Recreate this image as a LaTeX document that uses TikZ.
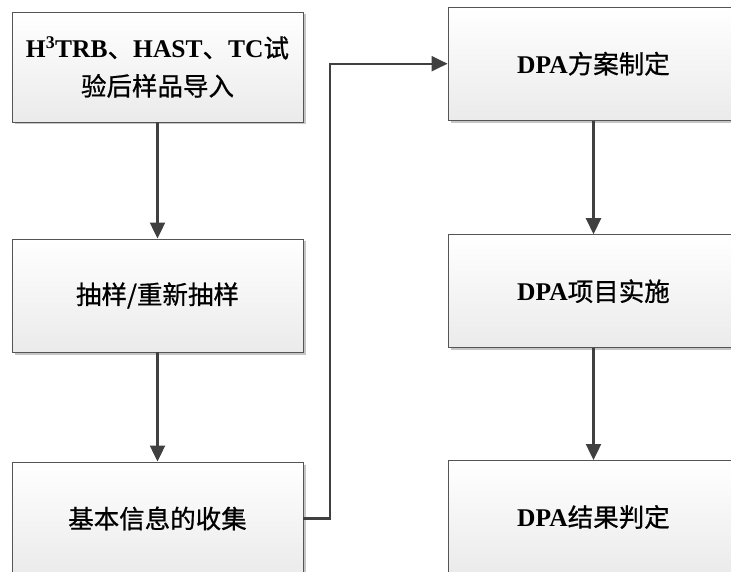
\documentclass[tikz,border=0pt]{standalone}
\usepackage{fontspec}
\setmainfont{Liberation Serif}
\newfontfamily\cjk[FakeBold=0.8]{Noto Sans CJK SC}
\usetikzlibrary{arrows.meta,shadows}
\definecolor{linec}{HTML}{404040}
\definecolor{boxline}{HTML}{555555}
\begin{document}
\begin{tikzpicture}[x=1pt,y=-1pt,
  flowbox/.style={draw=boxline, line width=0.9pt, top color=white, bottom color=gray!16,
    minimum width=291pt, inner sep=0pt, align=center,
    font=\fontsize{25.5}{38}\selectfont,
    drop shadow={shadow xshift=2.5pt, shadow yshift=-2.5pt, fill=gray!45, opacity=1}},
  flowarrow/.style={draw=linec, line width=2.2pt, -{Triangle[length=16pt,width=15pt]}},
  flowline/.style={draw=linec, line width=2.2pt}]
\useasboundingbox (0,0) rectangle (731,572);
\node[flowbox, minimum height=110pt] (b1) at (157.5,67)
  {\textbf{H\textsuperscript{3}TRB}{\cjk 、}\textbf{HAST}{\cjk 、}\textbf{TC}{\cjk 试}\\{\cjk 验后样品导入}};
\node[flowbox, minimum height=113pt] (b2) at (157.5,295.5) {{\cjk 抽样/重新抽样}};
\node[flowbox, minimum height=113pt] (b3) at (157.5,518.5) {{\cjk 基本信息的收集}};
\node[flowbox, minimum height=113pt] (b4) at (593.5,63.7) {\textbf{DPA}{\cjk 方案制定}};
\node[flowbox, minimum height=113pt] (b5) at (593.5,291.2) {\textbf{DPA}{\cjk 项目实施}};
\node[flowbox, minimum height=113pt] (b6) at (593.5,517) {\textbf{DPA}{\cjk 结果判定}};
\draw[flowarrow] (b1.south) -- (b2.north);
\draw[flowarrow] (b2.south) -- (b3.north);
\draw[flowarrow] (b4.south) -- (b5.north);
\draw[flowarrow] (b5.south) -- (b6.north);
\coordinate (turn) at (330,518.5);
\draw[flowarrow] (b3.east) -- (turn) |- (b4.west);
\end{tikzpicture}
\end{document}
